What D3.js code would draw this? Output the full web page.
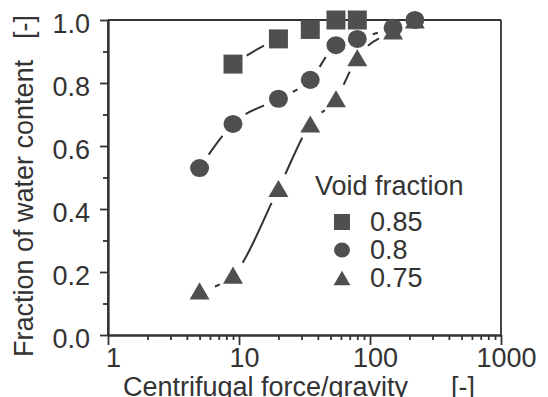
<!DOCTYPE html>
<html>
<head>
<meta charset="utf-8">
<script src="https://cdn.jsdelivr.net/npm/d3@7"></script>
<style>
  body { margin: 0; background: #fff; }
  svg { display: block; font-family: "Liberation Sans", Arial, sans-serif; }
</style>
</head>
<body>
<div id="chart"></div>
<script>
// Data
var legendTitle = "Void fraction";
var seriesNames = ["0.85", "0.8", "0.75"];
var seriesShapes = ["square", "circle", "triangle"];

var squareX = [9, 20, 35, 55, 80];
var squareY = [0.86, 0.94, 0.97, 1.0, 1.0];

var circleX = [5, 9, 20, 35, 55, 80, 150, 220];
var circleY = [0.53, 0.67, 0.75, 0.81, 0.92, 0.94, 0.975, 1.0];

var triangleX = [5, 9, 20, 35, 55, 80, 150, 220];
var triangleY = [0.14, 0.19, 0.465, 0.67, 0.75, 0.88, 0.965, 1.0];

var xMajorTicks = [1, 10, 100, 1000];
var yMajorTicks = [0, 0.2, 0.4, 0.6, 0.8, 1.0];
var yMinorTicks = [0.1, 0.3, 0.5, 0.7, 0.9];

var xTitle = "Centrifugal force/gravity";
var yTitle = "Fraction of water content";
var unitLabel = "[-]";

// SVG area
var svgWidth = 548;
var svgHeight = 397;
var margin = { top: 20, right: 47, bottom: 62, left: 108 };
var chartWidth = svgWidth - margin.left - margin.right;
var chartHeight = svgHeight - margin.top - margin.bottom;

var ink = "#333";
var markFill = "#4f4f4f";

var svg = d3.select("#chart")
  .append("svg")
  .attr("width", svgWidth)
  .attr("height", svgHeight);

var chartGroup = svg.append("g")
  .attr("transform", `translate(${margin.left}, ${margin.top})`);

var xScale = d3.scaleLog()
  .domain([1, 1000])
  .range([0, chartWidth]);

var yScale = d3.scaleLinear()
  .domain([0, 1])
  .range([chartHeight, 0]);

// minor log ticks 2..9 of each decade
var xMinorTicks = [];
[1, 10, 100].forEach(function(dec) {
  for (var k = 2; k <= 9; k++) xMinorTicks.push(dec * k);
});

// minor ticks first, majors on top
chartGroup.append("g")
  .attr("class", "axis minor")
  .attr("transform", `translate(0, ${chartHeight})`)
  .call(d3.axisBottom(xScale).tickValues(xMinorTicks).tickSize(5).tickSizeOuter(0).tickFormat(""));

chartGroup.append("g")
  .attr("class", "axis major")
  .attr("transform", `translate(0, ${chartHeight})`)
  .call(d3.axisBottom(xScale).tickValues(xMajorTicks).tickSize(10).tickSizeOuter(0).tickPadding(3).tickFormat(d3.format("d")))
  .selectAll("text")
  .attr("dx", 5);

chartGroup.append("g")
  .attr("class", "axis minor")
  .call(d3.axisLeft(yScale).tickValues(yMinorTicks).tickSize(5).tickSizeOuter(0).tickFormat(""));

chartGroup.append("g")
  .attr("class", "axis major")
  .call(d3.axisLeft(yScale).tickValues(yMajorTicks).tickSize(8).tickSizeOuter(0).tickPadding(10).tickFormat(d3.format(".1f")))
  .selectAll("text")
  .attr("dy", "0.47em");

chartGroup.selectAll(".axis path, .axis line")
  .attr("stroke", ink)
  .attr("stroke-width", 1.8);

chartGroup.selectAll(".axis text")
  .attr("fill", ink)
  .attr("font-size", "27px")
  .attr("font-family", "\"Liberation Sans\", Arial, sans-serif");

// y axis runs a bit past the x axis (the tick at 1)
chartGroup.append("line")
  .attr("x1", xScale(1)).attr("x2", xScale(1))
  .attr("y1", yScale(0)).attr("y2", yScale(1))
  .attr("stroke", ink).attr("stroke-width", 1.8);

// frame: top and right
chartGroup.append("line")
  .attr("x1", xScale(1)).attr("x2", xScale(1000))
  .attr("y1", yScale(1)).attr("y2", yScale(1))
  .attr("stroke", ink).attr("stroke-width", 1.8);

chartGroup.append("line")
  .attr("x1", xScale(1000)).attr("x2", xScale(1000))
  .attr("y1", yScale(1)).attr("y2", yScale(0))
  .attr("stroke", ink).attr("stroke-width", 1.8);

// axis titles
svg.append("text")
  .attr("x", 123)
  .attr("y", 396)
  .attr("font-size", "27px")
  .attr("fill", ink)
  .text(xTitle);

svg.append("text")
  .attr("x", 451)
  .attr("y", 396)
  .attr("font-size", "27px")
  .attr("fill", ink)
  .text(unitLabel);

svg.append("text")
  .attr("transform", "translate(33, 357) rotate(-90)")
  .attr("font-size", "27px")
  .attr("fill", ink)
  .text(yTitle);

svg.append("text")
  .attr("transform", "translate(33, 39) rotate(-90)")
  .attr("font-size", "27px")
  .attr("fill", ink)
  .text(unitLabel);

// marker path builders
function markerPath(shape, s) {
  if (shape === "square") {
    var h = s / 2;
    return `M${-h},${-h}H${h}V${h}H${-h}Z`;
  }
  if (shape === "circle") {
    var r = s / 2;
    return `M${r},0A${r},${r * 0.95} 0 1,1 ${-r},0A${r},${r * 0.95} 0 1,1 ${r},0Z`;
  }
  var w = s * 1.05 / 2, th = s * 0.9 / 2;
  return `M0,${-th}L${w},${th}L${-w},${th}Z`;
}

// dashed connecting curve: one dash per gap between markers
var line = d3.line()
  .x(d => xScale(d.x))
  .y(d => yScale(d.y))
  .curve(d3.curveMonotoneX);

function drawCurve(xs, ys) {
  var pts = xs.map((x, i) => ({ x: x, y: ys[i] }));
  var path = chartGroup.append("path")
    .datum(pts)
    .attr("d", line)
    .attr("fill", "none")
    .attr("stroke", ink)
    .attr("stroke-width", 2);
  var node = path.node();
  var total = node.getTotalLength();
  // length along the path at each data point
  var lens = pts.map(function(p) {
    var target = xScale(p.x), lo = 0, hi = total;
    for (var k = 0; k < 30; k++) {
      var mid = (lo + hi) / 2;
      if (node.getPointAtLength(mid).x < target) lo = mid; else hi = mid;
    }
    return (lo + hi) / 2;
  });
  var gap = 16;
  var arr = [0], cur = 0;
  for (var i = 1; i < lens.length; i++) {
    var s = lens[i - 1] + gap, e = lens[i] - gap;
    if (e - s > 2) {
      arr.push(s - cur, e - s);
      cur = e;
    }
  }
  arr.push(total - cur + 20);
  path.attr("stroke-dasharray", arr.join(","));
}

drawCurve(squareX, squareY);
drawCurve(circleX, circleY);
drawCurve(triangleX, triangleY);

function drawMarks(xs, ys, shape, size) {
  chartGroup.selectAll(null)
    .data(xs.map((x, i) => ({ x: x, y: ys[i] })))
    .enter()
    .append("path")
    .attr("transform", d => `translate(${xScale(d.x)}, ${yScale(d.y)})`)
    .attr("d", markerPath(shape, size))
    .attr("fill", markFill);
}

drawMarks(squareX, squareY, "square", 19);
drawMarks(triangleX, triangleY, "triangle", 19);
drawMarks(circleX, circleY, "circle", 19);

// legend
var legend = svg.append("g");

legend.append("text")
  .attr("x", 315)
  .attr("y", 195)
  .attr("font-size", "27px")
  .attr("fill", ink)
  .text(legendTitle);

var legendRows = legend.selectAll("g.row")
  .data(seriesNames)
  .enter()
  .append("g")
  .attr("class", "row")
  .attr("transform", (d, i) => `translate(342, ${222 + i * 28})`);

legendRows.append("path")
  .attr("d", (d, i) => markerPath(seriesShapes[i], 16))
  .attr("fill", markFill);

legendRows.append("text")
  .attr("x", 28)
  .attr("y", 9)
  .attr("font-size", "27px")
  .attr("fill", ink)
  .text(d => d);
</script>
</body>
</html>
